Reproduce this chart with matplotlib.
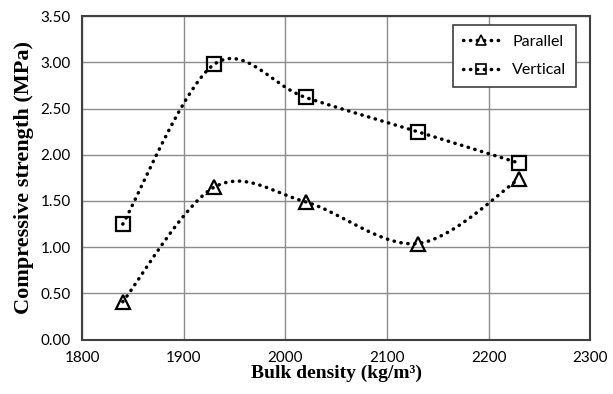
import numpy as np
import matplotlib.pyplot as plt

density = [1840, 1930, 2020, 2130, 2230]
parallel = [0.41, 1.65, 1.49, 1.04, 1.74]
vertical = [1.25, 2.98, 2.62, 2.25, 1.91]

x_ticks = [1800, 1900, 2000, 2100, 2200, 2300]
y_ticks = [0.0, 0.5, 1.0, 1.5, 2.0, 2.5, 3.0, 3.5]


def smooth(xs, ys, n=40):
    # Excel-style smoothed line: cubic Bezier pieces, tangents from neighbours
    p = np.column_stack([xs, ys]).astype(float)
    # scale to make the curve shape independent of axis units
    sx, sy = 500.0, 3.5
    p = p / [sx, sy]
    pts = np.vstack([p[0], p, p[-1]])
    out = []
    t = np.linspace(0, 1, n)[:, None]
    for i in range(1, len(pts) - 2):
        p0, p3 = pts[i], pts[i + 1]
        p1 = p0 + (pts[i + 1] - pts[i - 1]) / 6
        p2 = p3 - (pts[i + 2] - pts[i]) / 6
        seg = ((1 - t) ** 3 * p0 + 3 * (1 - t) ** 2 * t * p1
               + 3 * (1 - t) * t ** 2 * p2 + t ** 3 * p3)
        out.append(seg if i == 1 else seg[1:])
    c = np.vstack(out) * [sx, sy]
    return c[:, 0], c[:, 1]


fig, ax = plt.subplots(figsize=(6.13, 3.94), dpi=100)
fig.subplots_adjust(left=0.134, right=0.963, bottom=0.138, top=0.959)

line_kw = dict(color='black', linewidth=2.5, linestyle=(0, (0.1, 1.9)),
               dash_capstyle='round')

for ys, mk, ms, lab in [(parallel, '^', 10, 'Parallel'),
                        (vertical, 's', 10, 'Vertical')]:
    cx, cy = smooth(density, ys)
    ax.plot(cx, cy, zorder=2, **line_kw)
    ax.plot(density, ys, linestyle='none', marker=mk, markersize=ms,
            markerfacecolor='none', markeredgecolor='black',
            markeredgewidth=1.6, zorder=3)
    ax.plot([], [], marker=mk, markersize=7, markerfacecolor='none',
            markeredgecolor='black', markeredgewidth=1.2, label=lab, **line_kw)

ax.set_xlim(1800, 2300)
ax.set_ylim(0, 3.5)
ax.set_xticks(x_ticks)
ax.set_yticks(y_ticks)
ax.set_yticklabels([f'{v:.2f}' for v in y_ticks])
ax.grid(True, color='#8c8c8c', linewidth=1)
ax.set_axisbelow(True)
for s in ax.spines.values():
    s.set_color('#404040')
    s.set_linewidth(1.5)
ax.tick_params(length=0, labelsize=11, pad=8)
for lbl in ax.get_xticklabels() + ax.get_yticklabels():
    lbl.set_family('Lato')

ax.set_xlabel('Bulk density (kg/m³)', family='Liberation Serif',
              fontweight='bold', fontsize=14, labelpad=0)
ax.set_ylabel('Compressive strength (MPa)', family='Liberation Serif',
              fontweight='bold', fontsize=16, labelpad=5)

leg = ax.legend(loc='upper right', bbox_to_anchor=(0.987, 0.997),
                prop={'family': 'Lato', 'size': 11.5}, handlelength=2.3,
                fancybox=False, framealpha=1, borderpad=0.6, labelspacing=0.9,
                handletextpad=0.8)
leg.get_frame().set_edgecolor('#404040')
leg.get_frame().set_linewidth(1.2)

fig.savefig('out.png', dpi=100)
